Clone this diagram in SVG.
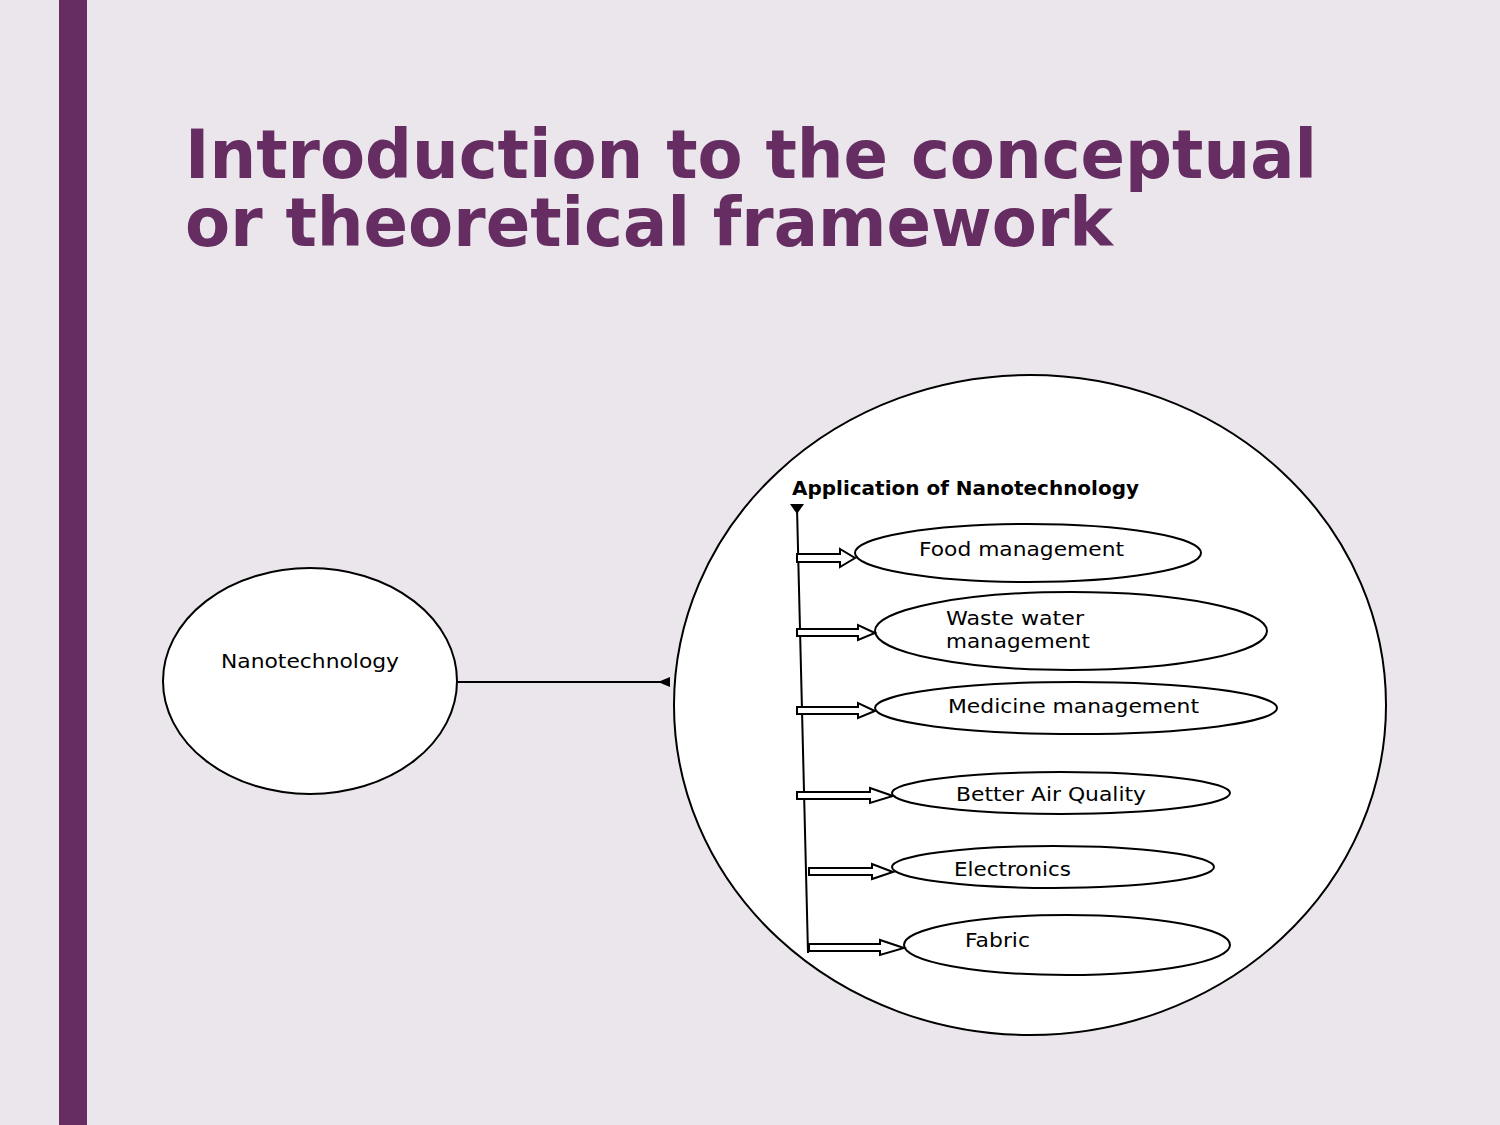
<svg xmlns="http://www.w3.org/2000/svg" width="1500" height="1125" viewBox="0 0 1500 1125">
<defs>
<style>
.title{font-family:"DejaVu Sans",sans-serif;font-weight:bold;font-size:67px;fill:#652d62}
.lbl{font-family:"DejaVu Sans",sans-serif;font-size:19px;fill:#000}
.hdr{font-family:"DejaVu Sans",sans-serif;font-size:19px;font-weight:bold;fill:#000}
.shape{fill:#fff;stroke:#000;stroke-width:2}
.barrow{fill:#fff;stroke:#000;stroke-width:2;stroke-linejoin:miter}
.line{stroke:#000;stroke-width:2;fill:none}
</style>
</defs>
<rect width="1500" height="1125" fill="#ebe5ec"/>
<rect x="59" y="0" width="28" height="1125" fill="#652d62"/>
<text class="title" x="185" y="178" textLength="1132" lengthAdjust="spacingAndGlyphs">Introduction to the conceptual</text>
<text class="title" x="185" y="246" textLength="928" lengthAdjust="spacingAndGlyphs">or theoretical framework</text>

<g id="nanotechnology">
<ellipse class="shape" cx="310" cy="681" rx="147" ry="113"/>
<text class="lbl" x="221" y="668" textLength="178" lengthAdjust="spacingAndGlyphs">Nanotechnology</text>
</g>

<g id="applications">
<ellipse class="shape" cx="1030" cy="705" rx="356" ry="330"/>
<text class="hdr" x="792" y="495" textLength="347" lengthAdjust="spacingAndGlyphs">Application of Nanotechnology</text>
</g>

<g id="food">
<ellipse class="shape" cx="1028" cy="553" rx="173" ry="29"/>
<text class="lbl" x="919" y="556" textLength="205" lengthAdjust="spacingAndGlyphs">Food management</text>
</g>
<g id="waste">
<ellipse class="shape" cx="1071" cy="631" rx="196" ry="39"/>
<text class="lbl" x="946" y="625" textLength="138" lengthAdjust="spacingAndGlyphs">Waste water</text>
<text class="lbl" x="946" y="648" textLength="144" lengthAdjust="spacingAndGlyphs">management</text>
</g>
<g id="medicine">
<ellipse class="shape" cx="1076" cy="708" rx="201" ry="26"/>
<text class="lbl" x="948" y="713" textLength="251" lengthAdjust="spacingAndGlyphs">Medicine management</text>
</g>
<g id="air">
<ellipse class="shape" cx="1061" cy="793" rx="169" ry="21"/>
<text class="lbl" x="956" y="801" textLength="190" lengthAdjust="spacingAndGlyphs">Better Air Quality</text>
</g>
<g id="electronics">
<ellipse class="shape" cx="1053" cy="867" rx="161" ry="21"/>
<text class="lbl" x="954" y="876" textLength="117" lengthAdjust="spacingAndGlyphs">Electronics</text>
</g>
<g id="fabric">
<ellipse class="shape" cx="1067" cy="945" rx="163" ry="30"/>
<text class="lbl" x="965" y="947" textLength="65" lengthAdjust="spacingAndGlyphs">Fabric</text>
</g>

<g id="connectors">
<line class="line" x1="457" y1="682" x2="662" y2="682"/>
<polygon points="658,682 670,677 670,687" fill="#000"/>
<line class="line" x1="797" y1="508" x2="808" y2="953"/>
<polygon points="790,504 804,504 797,514" fill="#000"/>
<polygon class="barrow" points="797,554 840,554 840,549 855,558 840,567 840,562 797,562"/>
<polygon class="barrow" points="797,629 858,629 858,625 875,633 858,640 858,636 797,636"/>
<polygon class="barrow" points="797,707 858,707 858,703 875,711 858,718 858,714 797,714"/>
<polygon class="barrow" points="797,792 870,792 870,788 893,796 870,803 870,799 797,799"/>
<polygon class="barrow" points="809,868 872,868 872,864 893,872 872,879 872,875 809,875"/>
<polygon class="barrow" points="809,944 880,944 880,940 904,948 880,955 880,951 809,951"/>
</g>
</svg>
